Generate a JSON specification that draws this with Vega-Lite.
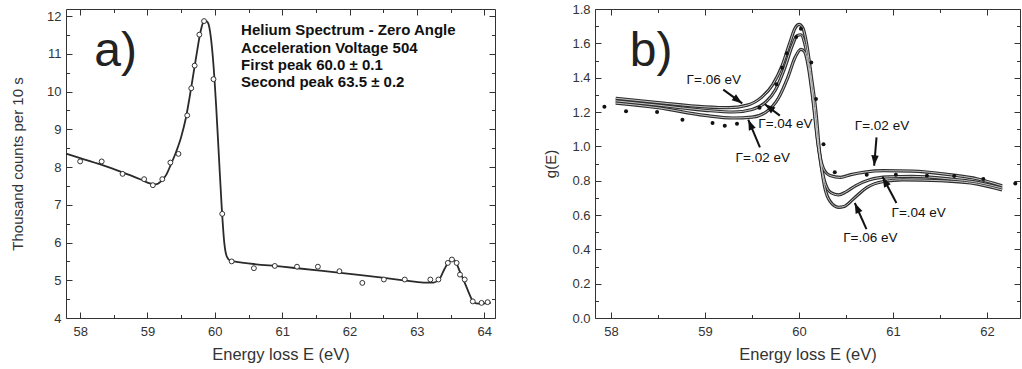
{
  "$schema": "https://vega.github.io/schema/vega-lite/v6.json",
  "padding": {"left": 10, "top": 3, "right": 1, "bottom": 0},
  "spacing": 47,
  "config": {
    "font": "Liberation Sans",
    "view": {"stroke": null},
    "axis": {
      "domainColor": "#333", "tickColor": "#333", "labelColor": "#333", "titleColor": "#333",
      "labelFont": "Liberation Sans", "titleFont": "Liberation Sans", "titleFontWeight": "normal",
      "grid": false, "labelFontSize": 13, "titleFontSize": 16, "labelOverlap": false, "labelBound": false, "labelFlush": false,
      "tickCount": 200
    }
  },
  "datasets": {
    "ptsA": [
      {"E": 58.0, "counts": 8.15}, {"E": 58.32, "counts": 8.15}, {"E": 58.63, "counts": 7.82}, {"E": 58.95, "counts": 7.68},
      {"E": 59.08, "counts": 7.52}, {"E": 59.22, "counts": 7.68}, {"E": 59.34, "counts": 8.12}, {"E": 59.46, "counts": 8.35},
      {"E": 59.59, "counts": 9.37}, {"E": 59.65, "counts": 10.09}, {"E": 59.70, "counts": 10.69}, {"E": 59.77, "counts": 11.51},
      {"E": 59.84, "counts": 11.87}, {"E": 59.98, "counts": 10.33}, {"E": 60.11, "counts": 6.76}, {"E": 60.25, "counts": 5.50},
      {"E": 60.58, "counts": 5.32}, {"E": 60.89, "counts": 5.38}, {"E": 61.22, "counts": 5.36}, {"E": 61.53, "counts": 5.36},
      {"E": 61.85, "counts": 5.24}, {"E": 62.19, "counts": 4.93}, {"E": 62.51, "counts": 5.02}, {"E": 62.82, "counts": 5.02},
      {"E": 63.20, "counts": 5.02}, {"E": 63.32, "counts": 5.02}, {"E": 63.46, "counts": 5.46}, {"E": 63.52, "counts": 5.55},
      {"E": 63.59, "counts": 5.46}, {"E": 63.64, "counts": 5.15}, {"E": 63.71, "counts": 5.02}, {"E": 63.83, "counts": 4.44},
      {"E": 63.96, "counts": 4.40}, {"E": 64.05, "counts": 4.42}
    ],
    "fitA": [
      {"E": 57.79, "counts": 8.36}, {"E": 58.0, "counts": 8.24}, {"E": 58.3, "counts": 8.07}, {"E": 58.63, "counts": 7.86},
      {"E": 58.9, "counts": 7.67}, {"E": 59.05, "counts": 7.56}, {"E": 59.12, "counts": 7.54}, {"E": 59.2, "counts": 7.62},
      {"E": 59.28, "counts": 7.8}, {"E": 59.35, "counts": 8.08}, {"E": 59.42, "counts": 8.38}, {"E": 59.5, "counts": 8.8},
      {"E": 59.57, "counts": 9.3}, {"E": 59.63, "counts": 9.9}, {"E": 59.68, "counts": 10.45}, {"E": 59.73, "counts": 11.0},
      {"E": 59.78, "counts": 11.52}, {"E": 59.82, "counts": 11.8}, {"E": 59.86, "counts": 11.88}, {"E": 59.9, "counts": 11.82},
      {"E": 59.94, "counts": 11.45}, {"E": 59.98, "counts": 10.7}, {"E": 60.02, "counts": 9.6}, {"E": 60.06, "counts": 8.3},
      {"E": 60.1, "counts": 7.0}, {"E": 60.14, "counts": 6.0}, {"E": 60.18, "counts": 5.62}, {"E": 60.23, "counts": 5.52},
      {"E": 60.4, "counts": 5.47}, {"E": 61.0, "counts": 5.36}, {"E": 61.6, "counts": 5.25}, {"E": 62.2, "counts": 5.13},
      {"E": 62.8, "counts": 5.0}, {"E": 63.1, "counts": 4.94}, {"E": 63.25, "counts": 4.94}, {"E": 63.33, "counts": 5.02},
      {"E": 63.41, "counts": 5.3}, {"E": 63.47, "counts": 5.48}, {"E": 63.53, "counts": 5.56}, {"E": 63.58, "counts": 5.48},
      {"E": 63.64, "counts": 5.22}, {"E": 63.7, "counts": 4.98}, {"E": 63.76, "counts": 4.72}, {"E": 63.82, "counts": 4.48},
      {"E": 63.88, "counts": 4.39}, {"E": 63.95, "counts": 4.38}, {"E": 64.1, "counts": 4.41}
    ],
    "infoA": [
      {"E": 60.39, "counts": 11.49, "label": "Helium Spectrum - Zero Angle"},
      {"E": 60.39, "counts": 11.02, "label": "Acceleration Voltage 504"},
      {"E": 60.39, "counts": 10.57, "label": "First peak 60.0 ± 0.1"},
      {"E": 60.39, "counts": 10.11, "label": "Second peak 63.5 ± 0.2"}
    ],
    "tagA": [{"E": 58.21, "counts": 10.68, "label": "a)"}],
    "tagB": [{"E": 58.20, "g": 1.47, "label": "b)"}],
    "ptsB": [
      {"E": 57.93, "g": 1.231}, {"E": 58.16, "g": 1.204}, {"E": 58.49, "g": 1.200}, {"E": 58.76, "g": 1.155},
      {"E": 59.08, "g": 1.136}, {"E": 59.21, "g": 1.120}, {"E": 59.34, "g": 1.132}, {"E": 59.58, "g": 1.225},
      {"E": 59.76, "g": 1.361}, {"E": 59.82, "g": 1.458}, {"E": 59.87, "g": 1.542}, {"E": 59.97, "g": 1.637},
      {"E": 60.02, "g": 1.685}, {"E": 60.13, "g": 1.489}, {"E": 60.18, "g": 1.276}, {"E": 60.26, "g": 1.012},
      {"E": 60.38, "g": 0.849}, {"E": 60.72, "g": 0.835}, {"E": 61.03, "g": 0.835}, {"E": 61.36, "g": 0.829},
      {"E": 61.65, "g": 0.827}, {"E": 61.96, "g": 0.810}, {"E": 62.30, "g": 0.784}
    ],
    "curvesB": [
      {"gamma": ".06", "E": 58.05, "g": 1.28}, {"gamma": ".06", "E": 58.5, "g": 1.255}, {"gamma": ".06", "E": 59.0, "g": 1.23},
      {"gamma": ".06", "E": 59.25, "g": 1.225}, {"gamma": ".06", "E": 59.45, "g": 1.24}, {"gamma": ".06", "E": 59.6, "g": 1.285},
      {"gamma": ".06", "E": 59.72, "g": 1.36}, {"gamma": ".06", "E": 59.82, "g": 1.47}, {"gamma": ".06", "E": 59.9, "g": 1.6},
      {"gamma": ".06", "E": 59.96, "g": 1.69}, {"gamma": ".06", "E": 60.0, "g": 1.71}, {"gamma": ".06", "E": 60.04, "g": 1.69},
      {"gamma": ".06", "E": 60.08, "g": 1.6}, {"gamma": ".06", "E": 60.13, "g": 1.41}, {"gamma": ".06", "E": 60.18, "g": 1.2},
      {"gamma": ".06", "E": 60.22, "g": 0.96}, {"gamma": ".06", "E": 60.27, "g": 0.77}, {"gamma": ".06", "E": 60.33, "g": 0.68},
      {"gamma": ".06", "E": 60.42, "g": 0.645}, {"gamma": ".06", "E": 60.48, "g": 0.65}, {"gamma": ".06", "E": 60.58, "g": 0.695},
      {"gamma": ".06", "E": 60.72, "g": 0.76}, {"gamma": ".06", "E": 60.9, "g": 0.795}, {"gamma": ".06", "E": 61.1, "g": 0.805},
      {"gamma": ".06", "E": 61.5, "g": 0.8}, {"gamma": ".06", "E": 61.9, "g": 0.78}, {"gamma": ".06", "E": 62.16, "g": 0.746},
      {"gamma": ".04", "E": 58.05, "g": 1.265}, {"gamma": ".04", "E": 58.5, "g": 1.24}, {"gamma": ".04", "E": 59.0, "g": 1.21},
      {"gamma": ".04", "E": 59.3, "g": 1.2}, {"gamma": ".04", "E": 59.5, "g": 1.215}, {"gamma": ".04", "E": 59.65, "g": 1.26},
      {"gamma": ".04", "E": 59.75, "g": 1.33}, {"gamma": ".04", "E": 59.85, "g": 1.46}, {"gamma": ".04", "E": 59.93, "g": 1.59},
      {"gamma": ".04", "E": 59.98, "g": 1.645}, {"gamma": ".04", "E": 60.02, "g": 1.65}, {"gamma": ".04", "E": 60.06, "g": 1.6},
      {"gamma": ".04", "E": 60.11, "g": 1.45}, {"gamma": ".04", "E": 60.16, "g": 1.23}, {"gamma": ".04", "E": 60.21, "g": 0.98},
      {"gamma": ".04", "E": 60.27, "g": 0.8}, {"gamma": ".04", "E": 60.34, "g": 0.73}, {"gamma": ".04", "E": 60.42, "g": 0.717},
      {"gamma": ".04", "E": 60.5, "g": 0.735}, {"gamma": ".04", "E": 60.6, "g": 0.77}, {"gamma": ".04", "E": 60.75, "g": 0.805},
      {"gamma": ".04", "E": 60.95, "g": 0.822}, {"gamma": ".04", "E": 61.2, "g": 0.825}, {"gamma": ".04", "E": 61.6, "g": 0.81},
      {"gamma": ".04", "E": 61.9, "g": 0.79}, {"gamma": ".04", "E": 62.16, "g": 0.757},
      {"gamma": ".02", "E": 58.05, "g": 1.252}, {"gamma": ".02", "E": 58.5, "g": 1.225}, {"gamma": ".02", "E": 59.0, "g": 1.18},
      {"gamma": ".02", "E": 59.3, "g": 1.165}, {"gamma": ".02", "E": 59.5, "g": 1.17}, {"gamma": ".02", "E": 59.65, "g": 1.2},
      {"gamma": ".02", "E": 59.78, "g": 1.28}, {"gamma": ".02", "E": 59.88, "g": 1.4}, {"gamma": ".02", "E": 59.96, "g": 1.52},
      {"gamma": ".02", "E": 60.02, "g": 1.565}, {"gamma": ".02", "E": 60.06, "g": 1.55}, {"gamma": ".02", "E": 60.1, "g": 1.46},
      {"gamma": ".02", "E": 60.15, "g": 1.26}, {"gamma": ".02", "E": 60.2, "g": 1.02}, {"gamma": ".02", "E": 60.26, "g": 0.87},
      {"gamma": ".02", "E": 60.33, "g": 0.83}, {"gamma": ".02", "E": 60.44, "g": 0.819}, {"gamma": ".02", "E": 60.55, "g": 0.835},
      {"gamma": ".02", "E": 60.7, "g": 0.85}, {"gamma": ".02", "E": 60.9, "g": 0.858}, {"gamma": ".02", "E": 61.2, "g": 0.856},
      {"gamma": ".02", "E": 61.6, "g": 0.835}, {"gamma": ".02", "E": 61.9, "g": 0.81}, {"gamma": ".02", "E": 62.16, "g": 0.77}
    ],
    "arrowsB": [
      {"E": 59.194, "g": 1.330, "E2": 59.396, "g2": 1.250},
      {"E": 59.796, "g": 1.179, "E2": 59.637, "g2": 1.245},
      {"E": 59.584, "g": 0.994, "E2": 59.460, "g2": 1.155},
      {"E": 60.824, "g": 1.052, "E2": 60.799, "g2": 0.887},
      {"E": 61.036, "g": 0.670, "E2": 60.888, "g2": 0.823},
      {"E": 60.717, "g": 0.518, "E2": 60.593, "g2": 0.670}
    ],
    "labelsB": [
      {"E": 58.804, "g": 1.388, "label": "Γ=.06 eV"},
      {"E": 59.566, "g": 1.130, "label": "Γ=.04 eV"},
      {"E": 59.325, "g": 0.930, "label": "Γ=.02 eV"},
      {"E": 60.593, "g": 1.120, "label": "Γ=.02 eV"},
      {"E": 60.983, "g": 0.610, "label": "Γ=.04 eV"},
      {"E": 60.469, "g": 0.464, "label": "Γ=.06 eV"}
    ]
  },
  "hconcat": [
    {
      "width": 429,
      "height": 309,
      "layer": [
        {
          "layer": [
            {
              "data": {"name": "fitA"},
              "mark": {"type": "line", "color": "#2a2a2a", "strokeWidth": 1.8, "interpolate": "monotone", "clip": true},
              "encoding": {
                "x": {"field": "E", "type": "quantitative", "scale": {"domain": [57.79, 64.16], "nice": false, "zero": false},
                  "axis": {"orient": "bottom", "title": "Energy loss E (eV)", "titleFontSize": 16.5, "titlePadding": 6, "tickCount": 200,
                    "values": [58, 58.5, 59, 59.5, 60, 60.5, 61, 61.5, 62, 62.5, 63, 63.5, 64],
                    "labelExpr": "datum.value % 1 === 0 ? format(datum.value, 'd') : ''", "labelOverlap": false,
                    "tickSize": {"condition": {"test": "datum.value % 1 !== 0", "value": -3.5}, "value": -6},
                    "labelPadding": 13}},
                "y": {"field": "counts", "type": "quantitative", "scale": {"domain": [4, 12.19], "nice": false, "zero": false},
                  "axis": {"orient": "left", "title": "Thousand counts per 10 s", "titleFontSize": 15, "titlePadding": 21, "tickCount": 200,
                    "values": [4, 4.5, 5, 5.5, 6, 6.5, 7, 7.5, 8, 8.5, 9, 9.5, 10, 10.5, 11, 11.5, 12],
                    "labelExpr": "datum.value % 1 === 0 ? format(datum.value, 'd') : ''", "labelOverlap": false,
                    "tickSize": {"condition": {"test": "datum.value % 1 !== 0", "value": -3.5}, "value": -6},
                    "labelPadding": 11}}
              }
            },
            {
              "data": {"name": "tagA"},
              "mark": {"type": "text", "fontSize": 48, "color": "#222", "align": "left", "baseline": "alphabetic"},
              "encoding": {"x": {"field": "E", "type": "quantitative"}, "y": {"field": "counts", "type": "quantitative"}, "text": {"field": "label"}}
            },
            {
              "data": {"name": "infoA"},
              "mark": {"type": "text", "fontSize": 15, "fontWeight": "bold", "color": "#111", "align": "left", "baseline": "alphabetic"},
              "encoding": {"x": {"field": "E", "type": "quantitative"}, "y": {"field": "counts", "type": "quantitative"}, "text": {"field": "label"}}
            }
          ]
        },
        {
          "data": {"name": "ptsA"},
          "mark": {"type": "point", "shape": "circle", "filled": true, "fill": "white", "stroke": "#333", "strokeWidth": 1, "size": 24, "opacity": 1},
          "encoding": {
            "x": {"field": "E", "type": "quantitative", "scale": {"domain": [57.79, 64.16], "nice": false, "zero": false},
              "axis": {"orient": "top", "title": null, "labels": false, "tickCount": 200,
                "values": [58, 58.5, 59, 59.5, 60, 60.5, 61, 61.5, 62, 62.5, 63, 63.5, 64],
                "tickSize": {"condition": {"test": "datum.value % 1 !== 0", "value": -3.5}, "value": -6}}},
            "y": {"field": "counts", "type": "quantitative", "scale": {"domain": [4, 12.19], "nice": false, "zero": false},
              "axis": {"orient": "right", "title": null, "labels": false, "tickCount": 200,
                "values": [4, 4.5, 5, 5.5, 6, 6.5, 7, 7.5, 8, 8.5, 9, 9.5, 10, 10.5, 11, 11.5, 12],
                "tickSize": {"condition": {"test": "datum.value % 1 !== 0", "value": -3.5}, "value": -6}}}
          }
        }
      ],
      "resolve": {"scale": {"x": "independent", "y": "independent"}}
    },
    {
      "width": 425,
      "height": 309,
      "layer": [
        {
          "layer": [
            {
              "data": {"name": "curvesB"},
              "mark": {"type": "line", "color": "#2e2e2e", "strokeWidth": 3.2, "interpolate": "monotone", "clip": true},
              "encoding": {
                "detail": {"field": "gamma"},
                "x": {"field": "E", "type": "quantitative", "scale": {"domain": [57.83, 62.35], "nice": false, "zero": false},
                  "axis": {"orient": "bottom", "title": "Energy loss E (eV)", "titleFontSize": 16.5, "titlePadding": 6, "tickCount": 200,
                    "values": [58, 58.5, 59, 59.5, 60, 60.5, 61, 61.5, 62],
                    "labelExpr": "datum.value % 1 === 0 ? format(datum.value, 'd') : ''", "labelOverlap": false,
                    "tickSize": {"condition": {"test": "datum.value % 1 !== 0", "value": -3.5}, "value": -6},
                    "labelPadding": 13}},
                "y": {"field": "g", "type": "quantitative", "scale": {"domain": [0, 1.8], "nice": false, "zero": false},
                  "axis": {"orient": "left", "title": "g(E)", "titleFontSize": 15, "titlePadding": 13, "tickCount": 200,
                    "values": [0, 0.1, 0.2, 0.3, 0.4, 0.5, 0.6, 0.7, 0.8, 0.9, 1.0, 1.1, 1.2, 1.3, 1.4, 1.5, 1.6, 1.7, 1.8],
                    "labelExpr": "round(datum.value * 10) % 2 === 0 ? format(datum.value, '.1f') : ''", "labelOverlap": false,
                    "tickSize": {"condition": {"test": "round(datum.value * 10) % 2 !== 0", "value": -3.5}, "value": -6},
                    "labelPadding": 11}}
              }
            },
            {
              "data": {"name": "curvesB"},
              "mark": {"type": "line", "color": "#c8c8c8", "strokeWidth": 1, "interpolate": "monotone", "clip": true},
              "encoding": {"detail": {"field": "gamma"}, "x": {"field": "E", "type": "quantitative"}, "y": {"field": "g", "type": "quantitative"}}
            },
            {
              "data": {"name": "arrowsB"},
              "mark": {"type": "rule", "color": "#111", "strokeWidth": 2},
              "encoding": {"x": {"field": "E", "type": "quantitative"}, "y": {"field": "g", "type": "quantitative"},
                "x2": {"field": "E2"}, "y2": {"field": "g2"}}
            },
            {
              "data": {"name": "arrowsB"},
              "transform": [{"calculate": "atan2((datum.E2 - datum.E) * 94, (datum.g2 - datum.g) * 171.67) * 180 / PI", "as": "dir"}],
              "mark": {"type": "point", "shape": "M0,0L0.5,1.4L-0.5,1.4Z", "filled": true, "color": "#111", "size": 220, "opacity": 1},
              "encoding": {"x": {"field": "E2", "type": "quantitative"}, "y": {"field": "g2", "type": "quantitative"},
                "angle": {"field": "dir", "type": "quantitative", "scale": null}}
            },
            {
              "data": {"name": "labelsB"},
              "mark": {"type": "text", "fontSize": 13.5, "color": "#111", "align": "left", "baseline": "middle"},
              "encoding": {"x": {"field": "E", "type": "quantitative"}, "y": {"field": "g", "type": "quantitative"}, "text": {"field": "label"}}
            },
            {
              "data": {"name": "tagB"},
              "mark": {"type": "text", "fontSize": 48, "color": "#222", "align": "left", "baseline": "alphabetic"},
              "encoding": {"x": {"field": "E", "type": "quantitative"}, "y": {"field": "g", "type": "quantitative"}, "text": {"field": "label"}}
            }
          ]
        },
        {
          "data": {"name": "ptsB"},
          "mark": {"type": "point", "shape": "circle", "filled": true, "color": "#111", "size": 16, "opacity": 1, "clip": false},
          "encoding": {
            "x": {"field": "E", "type": "quantitative", "scale": {"domain": [57.83, 62.35], "nice": false, "zero": false},
              "axis": {"orient": "top", "title": null, "labels": false, "tickCount": 200,
                "values": [58, 58.5, 59, 59.5, 60, 60.5, 61, 61.5, 62],
                "tickSize": {"condition": {"test": "datum.value % 1 !== 0", "value": -3.5}, "value": -6}}},
            "y": {"field": "g", "type": "quantitative", "scale": {"domain": [0, 1.8], "nice": false, "zero": false},
              "axis": {"orient": "right", "title": null, "labels": false, "tickCount": 200,
                "values": [0, 0.1, 0.2, 0.3, 0.4, 0.5, 0.6, 0.7, 0.8, 0.9, 1.0, 1.1, 1.2, 1.3, 1.4, 1.5, 1.6, 1.7, 1.8],
                "tickSize": {"condition": {"test": "round(datum.value * 10) % 2 !== 0", "value": -3.5}, "value": -6}}}
          }
        }
      ],
      "resolve": {"scale": {"x": "independent", "y": "independent"}}
    }
  ]
}
